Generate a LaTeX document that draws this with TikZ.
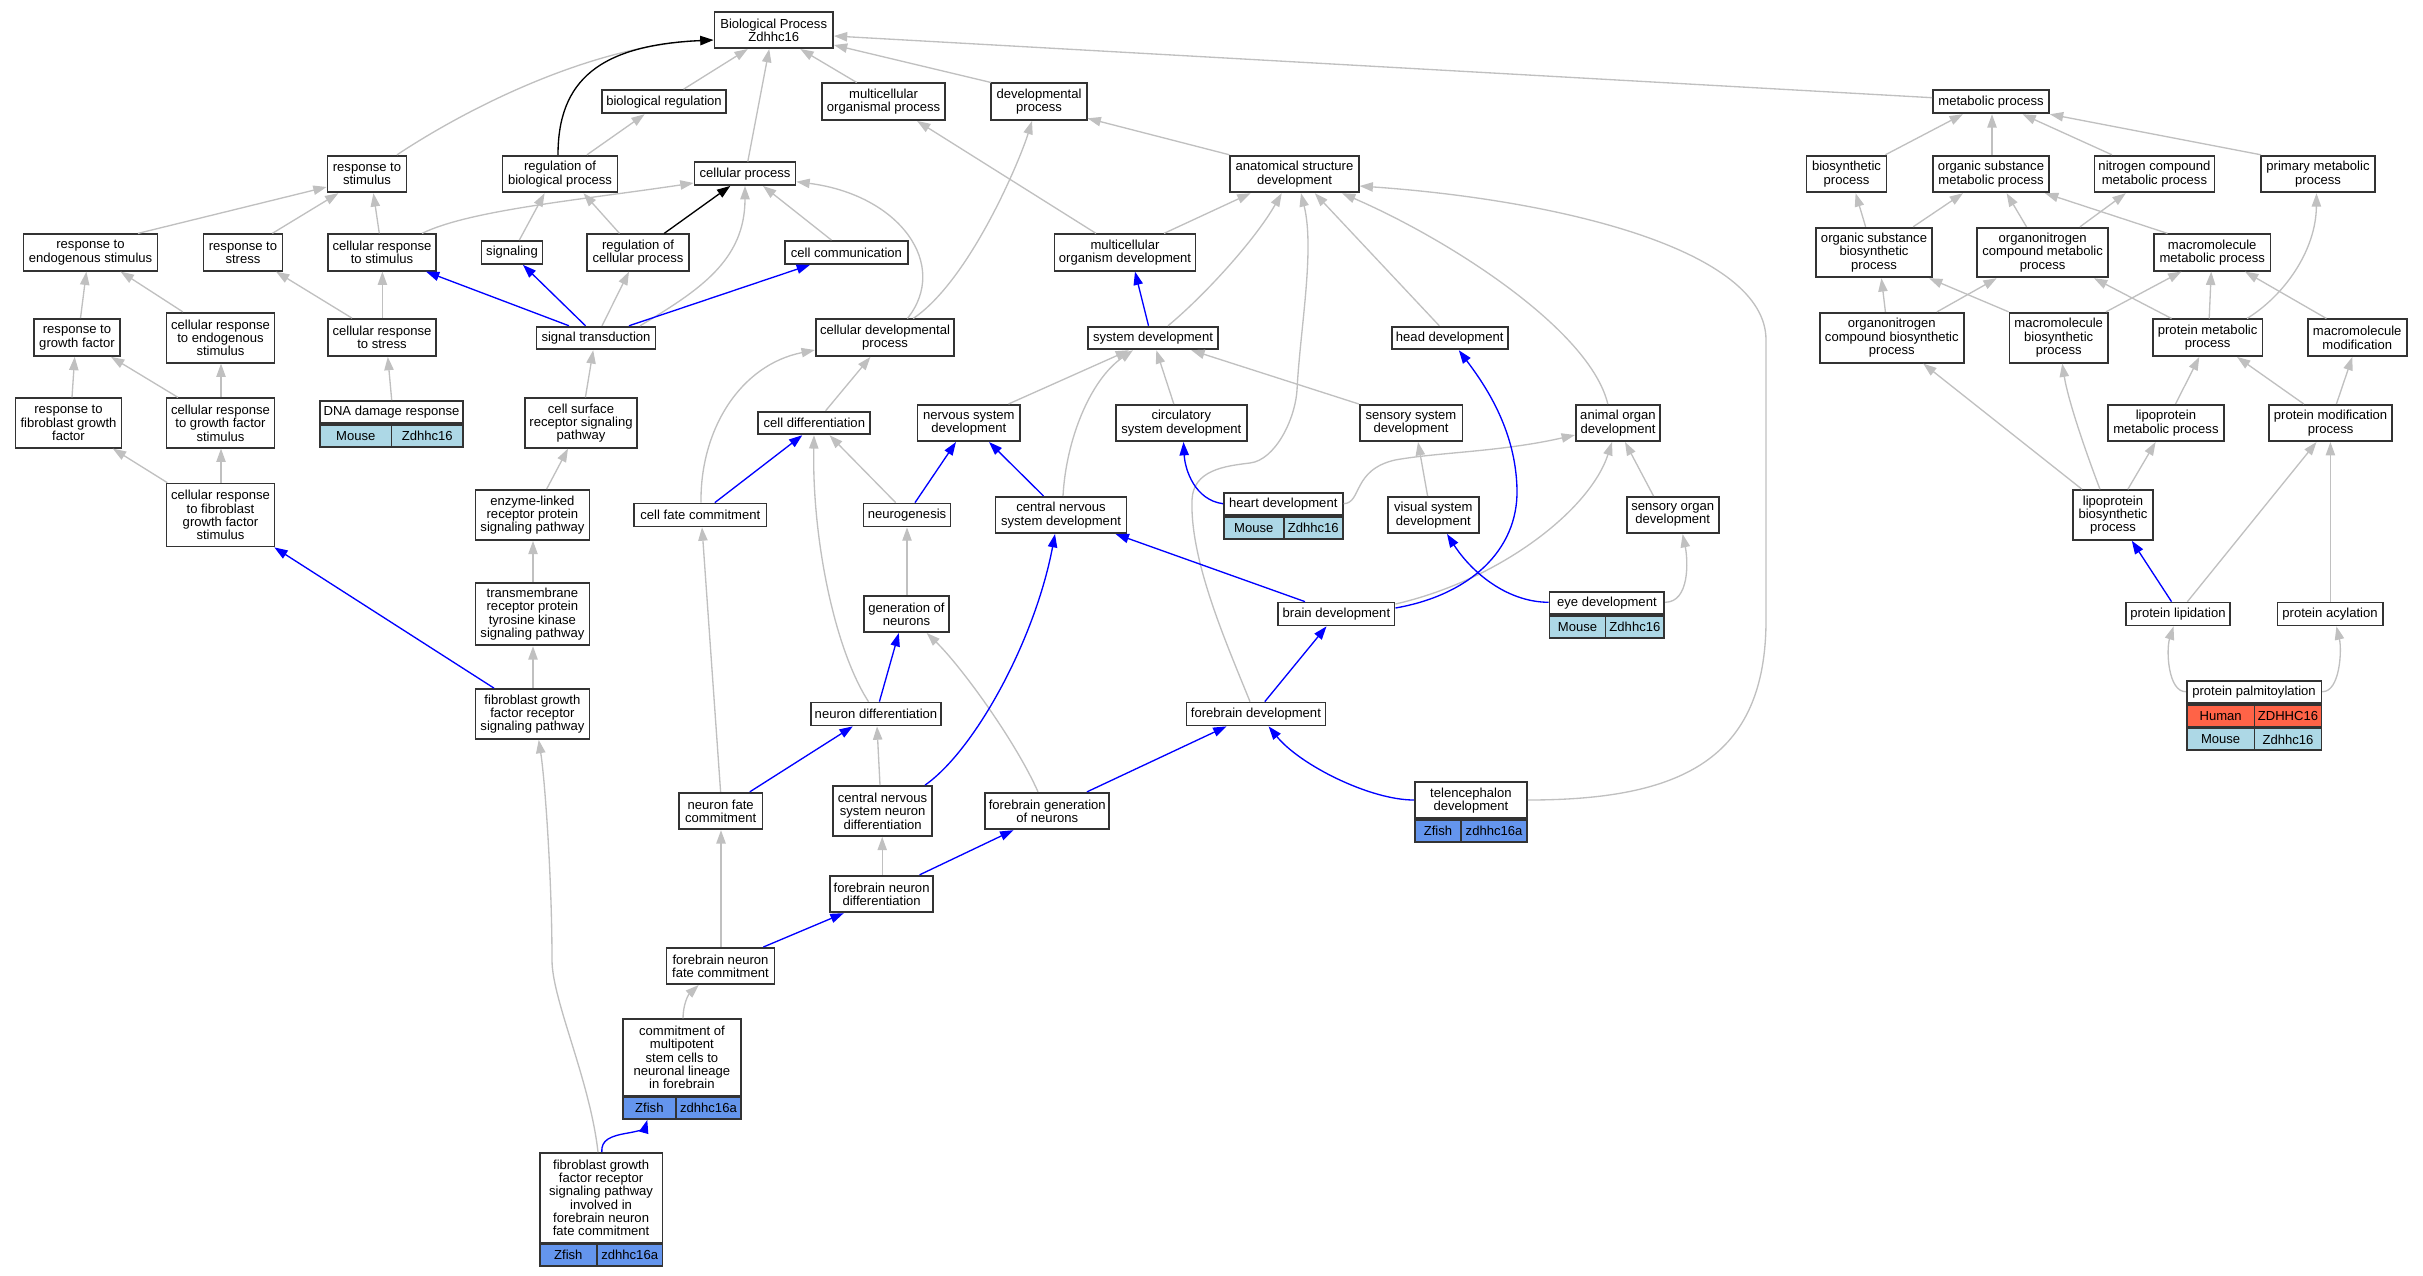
\documentclass[tikz,border=0pt]{standalone}
\usepackage{fontspec}
\setmainfont{Liberation Sans}
\usetikzlibrary{arrows.meta}
\definecolor{mouse}{RGB}{173,216,230}
\definecolor{zfish}{RGB}{100,149,237}
\definecolor{human}{RGB}{255,99,71}
\definecolor{edgegray}{RGB}{192,192,192}
\definecolor{edgeblue}{RGB}{0,0,255}
\newcommand\gofont{\fontsize{9.8pt}{10pt}\selectfont}
\begin{document}
\begin{tikzpicture}[x=0.75pt,y=-0.75pt,
 gn/.style 2 args={draw=black!80, line width=1.3pt, fill=white, align=center, inner sep=0pt,
   minimum width=#1*0.75pt, minimum height=#2*0.75pt, font=\gofont},
 lc/.style 2 args={draw=black!80, line width=1.3pt, align=center, inner sep=0pt,
   minimum width=#1*0.75pt, minimum height=#2*0.75pt, font=\gofont},
 ge/.style={draw=edgegray, line width=1pt, -{Triangle[length=10pt,width=7pt]}},
 be/.style={draw=edgeblue, line width=1pt, -{Triangle[length=10pt,width=7pt]}},
 ke/.style={draw=black, line width=1pt, -{Triangle[length=10pt,width=7pt]}}]
\useasboundingbox (0,0) rectangle (2423,1275);

% ---------- nodes ----------
\node[gn={118.6}{36.3}] (BP) at (773.7,30) {Biological Process\\Zdhhc16};
\node[gn={124.5}{23.3}] (bioreg) at (664,101.7) {biological regulation};
\node[gn={123}{36.7}] (mop) at (883.6,101.7) {multicellular\\organismal process};
\node[gn={95.3}{36.7}] (devp) at (1039,101.7) {developmental\\process};
\node[gn={116}{23.3}] (metab) at (1991,101.7) {metabolic process};
\node[gn={79}{36.7}] (rstim) at (367,174) {response to\\stimulus};
\node[gn={115}{36.7}] (regbp) at (560,174) {regulation of\\biological process};
\node[gn={101}{22.7}] (cellp) at (745,173.7) {cellular process};
\node[gn={128.4}{36.7}] (asd) at (1294.5,174) {anatomical structure\\development};
\node[gn={80}{36.7}] (biosyn) at (1846.5,174) {biosynthetic\\process};
\node[gn={116}{36.7}] (osmp) at (1991,174) {organic substance\\metabolic process};
\node[gn={120}{36.7}] (ncmp) at (2154.4,174) {nitrogen compound\\metabolic process};
\node[gn={114}{36.7}] (pmp) at (2318,174) {primary metabolic\\process};
\node[gn={134}{36.5}] (rendo) at (90.5,252.5) {response to\\endogenous stimulus};
\node[gn={79}{36.5}] (rstress) at (243,252.5) {response to\\stress};
\node[gn={108}{36.5}] (crstim) at (382,252.5) {cellular response\\to stimulus};
\node[gn={61}{23}] (signaling) at (512,252.5) {signaling};
\node[gn={102}{36.5}] (regcp) at (638,252.5) {regulation of\\cellular process};
\node[gn={122.6}{23}] (cellcomm) at (846.4,252.5) {cell communication};
\node[gn={141}{36.5}] (modev) at (1125,252.5) {multicellular\\organism development};
\node[gn={116}{49.7}] (osbp) at (1874,252.5) {organic substance\\biosynthetic\\process};
\node[gn={130.7}{49.7}] (oncmp) at (2042.6,252.5) {organonitrogen\\compound metabolic\\process};
\node[gn={116.4}{36.5}] (mmp) at (2212.2,252.5) {macromolecule\\metabolic process};
\node[gn={86}{37}] (rgf) at (77,337.5) {response to\\growth factor};
\node[gn={108}{50}] (crendo) at (220.5,337.7) {cellular response\\to endogenous\\stimulus};
\node[gn={108}{37}] (crstress) at (382,337.5) {cellular response\\to stress};
\node[gn={119}{22.7}] (sigtrans) at (596,338) {signal transduction};
\node[gn={138.5}{36.7}] (cdp) at (885,337.7) {cellular developmental\\process};
\node[gn={130.5}{22.7}] (sysdev) at (1153,338) {system development};
\node[gn={116}{22.7}] (headdev) at (1449.7,338) {head development};
\node[gn={143.8}{50}] (oncbp) at (1891.8,337.7) {organonitrogen\\compound biosynthetic\\process};
\node[gn={98.5}{50}] (mbp) at (2058.7,337.7) {macromolecule\\biosynthetic\\process};
\node[gn={109.7}{36.7}] (protmp) at (2207.6,337.7) {protein metabolic\\process};
\node[gn={99}{36.7}] (mmod) at (2357.2,337.7) {macromolecule\\modification};
\node[gn={106}{49.5}] (rfgf) at (68.5,423) {response to\\fibroblast growth\\factor};
\node[gn={108}{49.5}] (crgfs) at (220.5,423) {cellular response\\to growth factor\\stimulus};
\node[gn={143}{22}] (dna) at (391.5,412) {DNA damage response};
\node[lc={71.5}{22}, fill=mouse, anchor=north west] (dnaA) at (dna.south west) {Mouse};
\node[lc={71.5}{22}, fill=mouse, anchor=north east] (dnaB) at (dna.south east) {Zdhhc16};
\node[gn={112}{49.5}] (csrsp) at (581,423) {cell surface\\receptor signaling\\pathway};
\node[gn={112}{22.7}] (celldiff) at (814.3,423) {cell differentiation};
\node[gn={102.7}{36.3}] (nsd) at (968.8,423) {nervous system\\development};
\node[gn={130.8}{36.3}] (circ) at (1181.3,423) {circulatory\\system development};
\node[gn={102.7}{36.3}] (ssd) at (1411,423) {sensory system\\development};
\node[gn={84.4}{36.3}] (aod) at (1618,423) {animal organ\\development};
\node[gn={116}{36.3}] (lmp) at (2165.9,423) {lipoprotein\\metabolic process};
\node[gn={122.8}{36.3}] (pmodp) at (2330.6,423) {protein modification\\process};
\node[gn={108}{63}] (crfgfs) at (220.5,515) {cellular response\\to fibroblast\\growth factor\\stimulus};
\node[gn={114}{50}] (enzyme) at (532.4,515) {enzyme-linked\\receptor protein\\signaling pathway};
\node[gn={132.3}{23}] (cfc) at (700.3,515) {cell fate commitment};
\node[gn={86.8}{23}] (neurog) at (907,515) {neurogenesis};
\node[gn={131}{36.3}] (cnsdev) at (1061,515) {central nervous\\system development};
\node[gn={119}{22.3}] (heart) at (1283.3,504.2) {heart development};
\node[lc={59.9}{21.7}, fill=mouse, anchor=north west] (heartA) at (heart.south west) {Mouse};
\node[lc={59.1}{21.7}, fill=mouse, anchor=north east] (heartB) at (heart.south east) {Zdhhc16};
\node[gn={90.7}{36.3}] (vsd) at (1433.3,515) {visual system\\development};
\node[gn={92}{36.3}] (sod) at (1672.7,515) {sensory organ\\development};
\node[gn={80.2}{49.7}] (lbp) at (2113,515) {lipoprotein\\biosynthetic\\process};
\node[gn={114}{62.7}] (tm) at (532.4,614) {transmembrane\\receptor protein\\tyrosine kinase\\signaling pathway};
\node[gn={85.6}{36.3}] (gon) at (906.5,614) {generation of\\neurons};
\node[gn={116.4}{23}] (brain) at (1336.4,614) {brain development};
\node[gn={114.8}{22.6}] (eye) at (1606.9,603) {eye development};
\node[lc={56}{21.7}, fill=mouse, anchor=north west] (eyeA) at (eye.south west) {Mouse};
\node[lc={58.8}{21.7}, fill=mouse, anchor=north east] (eyeB) at (eye.south east) {Zdhhc16};
\node[gn={104}{23}] (plip) at (2178,614) {protein lipidation};
\node[gn={105.3}{23}] (pacyl) at (2330,614) {protein acylation};
\node[gn={114}{50}] (fgfr) at (532.4,714) {fibroblast growth\\factor receptor\\signaling pathway};
\node[gn={130.7}{23}] (nd) at (876,714) {neuron differentiation};
\node[gn={139}{23}] (fd) at (1255.9,714) {forebrain development};
\node[gn={134.7}{22.3}] (palm) at (2254,692.2) {protein palmitoylation};
\node[lc={67.9}{21.7}, fill=human, anchor=north west] (palmHA) at (palm.south west) {Human};
\node[lc={66.8}{21.7}, fill=human, anchor=north east] (palmHB) at (palm.south east) {ZDHHC16};
\node[lc={67.9}{21.7}, fill=mouse, anchor=north west] (palmMA) at (palmHA.south west) {Mouse};
\node[lc={66.8}{21.7}, fill=mouse, anchor=north east] (palmMB) at (palmHB.south east) {Zdhhc16};
\node[gn={83.5}{36.6}] (nfc) at (720.7,811) {neuron fate\\commitment};
\node[gn={99}{50}] (cnsnd) at (882.6,811) {central nervous\\system neuron\\differentiation};
\node[gn={124}{36.6}] (fgn) at (1047.3,811) {forebrain generation\\of neurons};
\node[gn={112.2}{36}] (tel) at (1470.9,800.3) {telencephalon\\development};
\node[lc={46.3}{22}, fill=zfish, anchor=north west] (telA) at (tel.south west) {Zfish};
\node[lc={65.9}{22}, fill=zfish, anchor=north east] (telB) at (tel.south east) {zdhhc16a};
\node[gn={102.7}{36.6}] (fnd) at (881.6,894) {forebrain neuron\\differentiation};
\node[gn={108}{36.3}] (fnfc) at (720.5,966) {forebrain neuron\\fate commitment};
\node[gn={118.2}{76.4}] (cmsc) at (681.9,1057.5) {commitment of\\multipotent\\stem cells to\\neuronal lineage\\in forebrain};
\node[lc={53.1}{21.6}, fill=zfish, anchor=north west] (cmscA) at (cmsc.south west) {Zfish};
\node[lc={65.1}{21.6}, fill=zfish, anchor=north east] (cmscB) at (cmsc.south east) {zdhhc16a};
\node[gn={122.8}{89.7}] (fgf2) at (601.1,1197.9) {fibroblast growth\\factor receptor\\signaling pathway\\involved in\\forebrain neuron\\fate commitment};
\node[lc={57.2}{21.3}, fill=zfish, anchor=north west] (fgf2A) at (fgf2.south west) {Zfish};
\node[lc={65.6}{21.3}, fill=zfish, anchor=north east] (fgf2B) at (fgf2.south east) {zdhhc16a};

% ---------- gray edges ----------
\draw[ge] (rstim.north -| 397,0) .. controls (480,100) and (600,45) .. (BP.west |- 0,40);
\draw[ge] (bioreg.north -| 683.6,0) -- (BP.south -| 747.8,0);
\draw[ge] (cellp.north -| 747.8,0) -- (BP.south -| 769.2,0);
\draw[ge] (mop.north -| 856.7,0) -- (BP.south -| 800.3,0);
\draw[ge] (devp.north -| 991,0) -- (BP.east |- 0,45);
\draw[ge] (metab.west |- 0,97.7) -- (BP.east |- 0,36);
\draw[ge] (regbp.north -| 587,0) -- (bioreg.south -| 644.7,0);
\draw[ge] (rendo.north -| 138,0) -- (rstim.west |- 0,187);
\draw[ge] (rstress.north -| 272.3,0) -- (rstim.south -| 338.4,0);
\draw[ge] (crstim.north -| 379.3,0) -- (rstim.south -| 373.4,0);
\draw[ge] (crstim.north -| 422,0) .. controls (470,210) and (580,200) .. (cellp.west |- 0,183);
\draw[ge] (signaling.north -| 519.3,0) -- (regbp.south -| 544.6,0);
\draw[ge] (regcp.north -| 619.5,0) -- (regbp.south -| 583.5,0);
\draw[ge] (sigtrans.north -| 640,0) .. controls (700,290) and (745,260) .. (cellp.south -| 745,0);
\draw[ge] (sigtrans.north -| 602,0) -- (regcp.south -| 629,0);
\draw[ge] (cellcomm.north -| 831.5,0) -- (cellp.south -| 763,0);
\draw[ge] (cdp.north -| 907.4,0) .. controls (950,265) and (900,195) .. (cellp.east |- 0,181.7);
\draw[ge] (cdp.north -| 913.2,0) .. controls (970,280) and (1020,160) .. (devp.south -| 1032,0);
\draw[ge] (modev.north -| 1096,0) -- (mop.south -| 917,0);
\draw[ge] (modev.north -| 1164,0) -- (asd.south -| 1250.6,0);
\draw[ge] (asd.north west) -- (devp.east |- 0,118.3);
\draw[ge] (sysdev.north -| 1168,0) .. controls (1205,295) and (1255,240) .. (asd.south -| 1281.7,0);
\draw[ge] (nsd.north -| 1008.5,0) -- (sysdev.south -| 1129,0);
\draw[ge] (cnsdev.north -| 1063,0) .. controls (1066,440) and (1090,380) .. (sysdev.south -| 1133,0);
\draw[ge] (circ.north -| 1173.8,0) -- (sysdev.south -| 1156.3,0);
\draw[ge] (ssd.north west) -- (sysdev.south -| 1191.3,0);
\draw[ge] (heart.east |- 0,503.7) .. controls (1362,503) and (1352,470) .. (1395,460) .. controls (1440,452) and (1500,452) .. (aod.west |- 0,435);
\draw[ge] (headdev.north -| 1439.3,0) -- (asd.south -| 1314.8,0);
\draw[ge] (aod.north -| 1607.8,0) .. controls (1590,330) and (1450,240) .. (asd.south -| 1342,0);
\draw[ge] (tel.east |- 0,800) .. controls (1680,800) and (1766,760) .. (1766,620) -- (1766,340) .. controls (1766,250) and (1560,200) .. (asd.east |- 0,186);
\draw[ge] (fd.north -| 1250,0) .. controls (1225,640) and (1190,560) .. (1192,500) .. controls (1193,470) and (1225,466) .. (1250,463) .. controls (1275,460) and (1295,420) .. (1297,390) .. controls (1300,330) and (1315,250) .. (asd.south -| 1301,0);
\draw[ge] (brain.east |- 0,604) .. controls (1500,580) and (1590,510) .. (aod.south -| 1612,0);
\draw[ge] (vsd.north -| 1427.6,0) -- (ssd.south -| 1418,0);
\draw[ge] (eye.east |- 0,602.3) .. controls (1690,602) and (1688,560) .. (sod.south -| 1682.6,0);
\draw[ge] (sod.north -| 1653.5,0) -- (aod.south -| 1625,0);
\draw[ge] (fgn.north -| 1038,0) .. controls (1015,740) and (960,665) .. (gon.south -| 926.7,0);
\draw[ge] (nd.north -| 868.5,0) .. controls (835,650) and (812,540) .. (celldiff.south -| 814,0);
\draw[ge] (gon.north -| 907,0) -- (neurog.south -| 907,0);
\draw[ge] (neurog.north -| 895.7,0) -- (celldiff.south -| 829.5,0);
\draw[ge] (cfc.north -| 701,0) .. controls (700,430) and (740,365) .. (cdp.west |- 0,350);
\draw[ge] (celldiff.north -| 825.6,0) -- (cdp.south -| 870.4,0);
\draw[ge] (nfc.north -| 720.6,0) -- (cfc.south -| 702,0);
\draw[ge] (cnsnd.north -| 880,0) -- (nd.south -| 877,0);
\draw[ge] (fnd.north -| 882.2,0) -- (cnsnd.south -| 882.2,0);
\draw[ge] (fnfc.north -| 721,0) -- (nfc.south -| 721,0);
\draw[ge] (cmsc.north -| 683,0) .. controls (683,1005) and (688,995) .. (fnfc.south -| 698.7,0);
\draw[ge] (fgf2.north -| 598,0) .. controls (590,1080) and (552,1000) .. (552,960) .. controls (552,880) and (545,780) .. (fgfr.south -| 538.7,0);
\draw[ge] (fgfr.north -| 533,0) -- (tm.south -| 533,0);
\draw[ge] (tm.north -| 533,0) -- (enzyme.south -| 533,0);
\draw[ge] (enzyme.north -| 546.6,0) -- (csrsp.south -| 568,0);
\draw[ge] (csrsp.north -| 585.4,0) -- (sigtrans.south -| 593.2,0);
\draw[ge] (crfgfs.north -| 167.3,0) -- (rfgf.south -| 112.8,0);
\draw[ge] (crfgfs.north -| 221,0) -- (crgfs.south -| 221,0);
\draw[ge] (rfgf.north -| 72,0) -- (rgf.south -| 74.7,0);
\draw[ge] (crgfs.north -| 178,0) -- (rgf.south -| 111,0);
\draw[ge] (crgfs.north -| 221,0) -- (crendo.south -| 221,0);
\draw[ge] (rgf.north -| 80.5,0) -- (rendo.south -| 86.4,0);
\draw[ge] (crendo.north -| 182.8,0) -- (rendo.south -| 120.6,0);
\draw[ge] (crstress.north -| 352,0) -- (rstress.south -| 276,0);
\draw[ge] (crstress.north -| 382.4,0) -- (crstim.south -| 382.4,0);
\draw[ge] (dna.north -| 391.7,0) -- (crstress.south -| 387.8,0);
\draw[ge] (biosyn.north -| 1885.4,0) -- (metab.south -| 1962.9,0);
\draw[ge] (osmp.north -| 1992,0) -- (metab.south -| 1992,0);
\draw[ge] (ncmp.north -| 2111.9,0) -- (metab.south -| 2022.5,0);
\draw[ge] (pmp.north -| 2260.9,0) -- (metab.south east);
\draw[ge] (osbp.north -| 1865.6,0) -- (biosyn.south -| 1855.6,0);
\draw[ge] (osbp.north -| 1913.2,0) -- (osmp.south -| 1963,0);
\draw[ge] (oncmp.north -| 2026.5,0) -- (osmp.south -| 2006.6,0);
\draw[ge] (oncmp.north -| 2080,0) -- (ncmp.south -| 2125.8,0);
\draw[ge] (mmp.north -| 2167.5,0) -- (osmp.south -| 2045,0);
\draw[ge] (protmp.north -| 2247,0) .. controls (2285,295) and (2316,250) .. (pmp.south -| 2316.5,0);
\draw[ge] (oncbp.north -| 1885.4,0) -- (osbp.south -| 1881.4,0);
\draw[ge] (oncbp.north -| 1937,0) -- (oncmp.south -| 1996.7,0);
\draw[ge] (mbp.north -| 2008.6,0) -- (osbp.south -| 1929,0);
\draw[ge] (mbp.north -| 2106,0) -- (mmp.south -| 2181.4,0);
\draw[ge] (protmp.north -| 2171.5,0) -- (oncmp.south -| 2094,0);
\draw[ge] (protmp.north -| 2209.2,0) -- (mmp.south -| 2211.2,0);
\draw[ge] (mmod.north -| 2326.4,0) -- (mmp.south -| 2245,0);
\draw[ge] (lmp.north -| 2175.5,0) -- (protmp.south -| 2199.3,0);
\draw[ge] (pmodp.north -| 2303.8,0) -- (protmp.south -| 2237,0);
\draw[ge] (pmodp.north -| 2336.4,0) -- (mmod.south -| 2352.3,0);
\draw[ge] (lbp.north -| 2082,0) -- (oncbp.south -| 1923.2,0);
\draw[ge] (lbp.north -| 2100,0) .. controls (2085,450) and (2068,400) .. (mbp.south -| 2062.2,0);
\draw[ge] (lbp.north -| 2127.8,0) -- (lmp.south -| 2155.6,0);
\draw[ge] (plip.north -| 2187.4,0) -- (pmodp.south -| 2316.5,0);
\draw[ge] (pacyl.north -| 2330.4,0) -- (pmodp.south -| 2330.4,0);
\draw[ge] (palm.west |- 0,691.7) .. controls (2168,692) and (2166,650) .. (plip.south -| 2173.5,0);
\draw[ge] (palm.east |- 0,691.7) .. controls (2340,692) and (2342,650) .. (pacyl.south -| 2336.4,0);

% ---------- blue edges ----------
\draw[be] (sigtrans.north -| 569,0) -- (crstim.south -| 426,0);
\draw[be] (sigtrans.north -| 585.5,0) -- (signaling.south -| 523,0);
\draw[be] (sigtrans.north -| 629,0) -- (cellcomm.south -| 810,0);
\draw[be] (sysdev.north -| 1148.5,0) -- (modev.south -| 1135,0);
\draw[be] (heart.west |- 0,503.7) .. controls (1195,500) and (1185,470) .. (circ.south -| 1183.5,0);
\draw[be] (brain.east |- 0,608) .. controls (1470,595) and (1518,550) .. (1517,490) .. controls (1516,430) and (1485,385) .. (headdev.south -| 1458.8,0);
\draw[be] (brain.north -| 1305,0) -- (cnsdev.south -| 1115.6,0);
\draw[be] (eye.west |- 0,602.3) .. controls (1505,602) and (1470,570) .. (vsd.south -| 1447,0);
\draw[be] (fd.north -| 1264.8,0) -- (brain.south -| 1326.5,0);
\draw[be] (tel.west |- 0,800) .. controls (1370,800) and (1300,765) .. (fd.south -| 1268.6,0);
\draw[be] (fgn.north -| 1087,0) -- (fd.south -| 1226.5,0);
\draw[be] (nd.north -| 879.4,0) -- (gon.south -| 898.8,0);
\draw[be] (neurog.north -| 915,0) -- (nsd.south -| 956,0);
\draw[be] (cnsdev.north -| 1043.5,0) -- (nsd.south -| 989,0);
\draw[be] (cfc.north -| 714.8,0) -- (celldiff.south -| 802.3,0);
\draw[be] (nfc.north -| 749.8,0) -- (nd.south -| 852.8,0);
\draw[be] (cnsnd.north -| 925,0) .. controls (975,750) and (1035,640) .. (cnsdev.south -| 1055,0);
\draw[be] (fnd.north -| 919.6,0) -- (fgn.south -| 1013.4,0);
\draw[be] (fnfc.north -| 763.4,0) -- (fnd.south -| 843.7,0);
\draw[be] (fgf2.north -| 601.8,0) .. controls (601,1140) and (610,1136) .. (628,1133) .. controls (640,1131) and (645,1128) .. (cmscA.south -| 647.3,0);
\draw[be] (fgfr.north -| 494,0) -- (crfgfs.south -| 274.3,0);
\draw[be] (plip.north -| 2171.5,0) -- (lbp.south -| 2131.8,0);

% ---------- black edges ----------
\draw[ke] (regbp.north -| 558,0) .. controls (558,80) and (600,45) .. (BP.west |- 0,40);
\draw[ke] (regcp.north -| 664.2,0) -- (cellp.south -| 730.3,0);
\end{tikzpicture}
\end{document}
